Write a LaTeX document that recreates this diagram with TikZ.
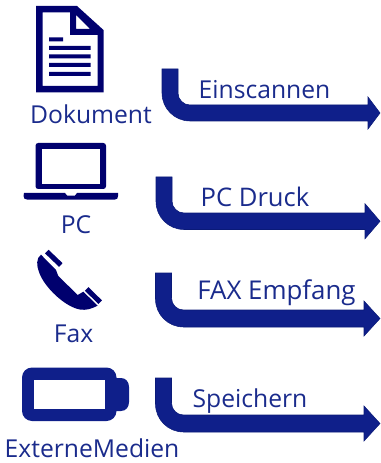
\documentclass[tikz,border=0pt]{standalone}
\usepackage{fontspec}
\setmainfont{Open Sans}
\definecolor{navy}{HTML}{00006E}
\definecolor{royal}{HTML}{0F1F8A}
\definecolor{edgeblue}{HTML}{0A1A78}
\definecolor{labelblue}{HTML}{1A2B8C}
\tikzset{
  lab/.style={anchor=base,inner sep=0pt,text=labelblue,font=\fontsize{18.5}{20}\selectfont},
  bend arrow/.style={fill=royal,draw=edgeblue,line width=0.4pt},
  icon/.style={fill=navy,even odd rule},
}
\newcommand{\bendarrow}[6]{% left, top, bar top, bar bottom, head base, head half
  \draw[bend arrow] (#1,#2) -- ({#1+16},#2) -- ({#1+16},{#3-12}) arc[start angle=180,end angle=270,x radius=12,y radius=-12]
   -- (#5,#3) -- (#5,{(#3+#4)/2-#6}) -- (380,{(#3+#4)/2}) -- (#5,{(#3+#4)/2+#6}) -- (#5,#4) -- ({#1+28},#4)
   arc[start angle=270,end angle=180,x radius=28,y radius=-28] -- cycle;
}
\begin{document}
\begin{tikzpicture}[x=0.75pt,y=-0.75pt]
\useasboundingbox (0,0) rectangle (380,463);
% document icon
\path[icon] (36,6) -- (77,6) -- (103.5,30) -- (103.5,92.5) -- (36,92.5) -- cycle
  (42.5,12.5) -- (42.5,86) -- (97.5,86) -- (97.5,35) -- (70,35) -- (70,12.5) -- cycle
  (76,15) -- (76,29) -- (90,29) -- cycle;
\fill[navy] (49,37.5) rectangle (63,41.5)
  (49,46) rectangle (90.5,50) (49,54.5) rectangle (90.5,58.5)
  (49,63) rectangle (90.5,67) (49,72) rectangle (90.5,76);
% laptop icon
\path[icon,rounded corners=2pt] (35.5,143) rectangle (106,189);
\fill[white] (42,149.5) rectangle (100,184);
\path[icon] (24,193) -- (65,193) -- (67,195.5) -- (75,195.5) -- (77,193) -- (118,193) -- (118,196)
  .. controls (118,198.5) and (117,199.5) .. (115,199.5) -- (27,199.5)
  .. controls (25,199.5) and (23.5,198.5) .. (23.5,196) -- cycle;
% phone icon
\path[icon] (41,254.7) .. controls (36,258) and (36.5,266) .. (39,272)
  .. controls (44,287) and (65,307) .. (80,309.5)
  .. controls (86,310.5) and (91,309) .. (97.7,305.7)
  -- (83.3,291.7) -- (77.7,295) -- (58.3,276) -- (56,270) -- cycle;
\draw[navy,line width=3.8pt] (46.8,251.6) -- (60.8,265);
\draw[navy,line width=3.8pt] (86.7,289) -- (100.2,302.2);
% battery icon
\path[fill=royal,even odd rule,rounded corners=7.5pt] (22,367.5) rectangle (116.5,421);
\fill[white] (34,379.5) rectangle (105,409);
\fill[royal] (116,378) -- (121,378) .. controls (126,378) and (129,382) .. (129,387)
  -- (129,402) .. controls (129,407) and (126,411) .. (121,411) -- (116,411) -- cycle;
% arrows
\bendarrow{162}{69}{105}{121}{368}{16}
\bendarrow{156}{177}{213}{229.5}{365}{17.5}
\bendarrow{155.5}{273}{310}{327}{364}{17.5}
\bendarrow{155.5}{378}{415}{432}{364}{17.5}
% labels
\node[lab] (dok) at (91,124) {Dokument};
\node[lab] (pc) at (76,233) {PC};
\node[lab] (fax) at (73.5,342) {Fax};
\node[lab] (ext) at (92,457) {ExterneMedien};
\node[lab] (ein) at (264.5,99) {Einscannen};
\node[lab,font=\fontsize{19.2}{20}\selectfont] (druck) at (255,206) {PC Druck};
\node[lab,font=\fontsize{19.4}{20}\selectfont] (emp) at (276.5,299) {FAX Empfang};
\node[lab] (sp) at (250,407) {Speichern};
\end{tikzpicture}
\end{document}
